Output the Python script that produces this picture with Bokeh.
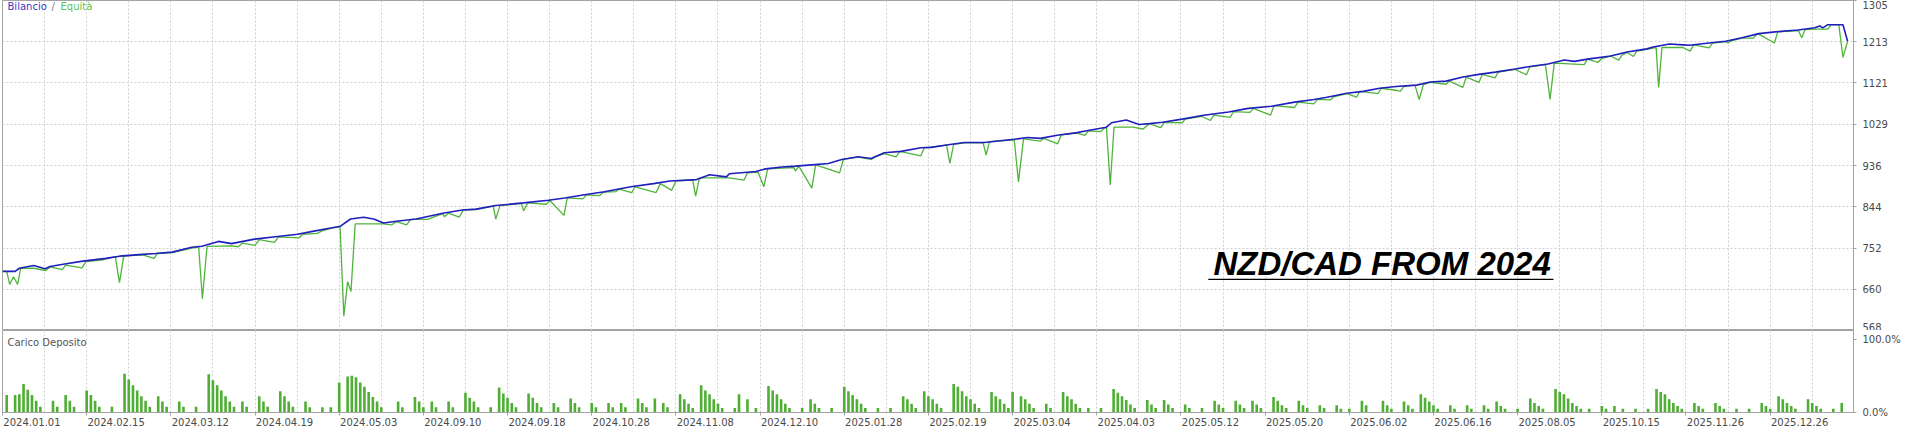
from bokeh.plotting import figure
from bokeh.layouts import column
from bokeh.models import Range1d, FixedTicker, Label, BoxAnnotation
from bokeh.embed import file_html
from bokeh.resources import INLINE

# ---------------- data ----------------
tick_labels = ["2024.01.01", "2024.02.15", "2024.03.12", "2024.04.19", "2024.05.03",
               "2024.09.10", "2024.09.18", "2024.10.28", "2024.11.08", "2024.12.10",
               "2025.01.28", "2025.02.19", "2025.03.04", "2025.04.03", "2025.05.12",
               "2025.05.20", "2025.06.02", "2025.06.16", "2025.08.05", "2025.10.15",
               "2025.11.26", "2025.12.26"]
deals_per_label = 20

y_ticks = [568, 660, 752, 844, 936, 1029, 1121, 1213, 1305]

bal_x = [0, 3, 4, 7.4, 10.1, 11.3, 14.4, 19.1, 24.6, 27.8, 33.3, 36.4, 40.3, 45, 47.4, 51.3, 54.4,
         59.9, 65.4, 70.1, 74, 78, 80.3, 82.7, 85.8, 88.2, 90.5, 93.6, 98.3, 104.6, 109.3, 112.5,
         117.2, 123.8, 129.7, 133.6, 138.3, 143, 149.3, 154.7, 158.6, 164.9, 168, 172, 172.7, 179,
         181.3, 185.2, 188.4, 192.3, 196.2, 199.4, 203.3, 206.4, 209.5, 213.5, 218.2, 220.7, 224.7,
         228.6, 233.3, 240.4, 243.5, 246.6, 250.6, 255.3, 257.6, 262.3, 263.5, 267, 270.1, 272.5,
         275.6, 280.3, 285, 291.3, 296, 301.5, 307, 311.6, 314.7, 319.4, 323.3, 327.2, 331.1, 336,
         339.2, 343, 347, 350.8, 354.7, 359.4, 362.5, 367.2, 371.1, 373.5, 376.6, 382.1, 386, 390.7,
         392.2, 396.1, 399.3, 400.8, 405.5, 409.4, 413.3, 417.3, 421.2, 426.7, 430.6, 431.8, 432.5,
         433.7, 437.3, 438.4]
bal_y = [700, 700, 707, 713, 706, 711, 716, 723, 729, 734, 738, 740, 743, 754, 756, 767, 762,
         772, 778, 783, 790, 797, 801, 817, 821, 817, 808, 812, 817, 830, 837, 839,
         847, 853, 859, 864, 871, 878, 889, 896, 902, 905, 916, 911, 918, 923,
         929, 933, 935, 938, 941, 950, 956, 952, 965, 968, 976, 977, 983,
         988, 988, 995, 999, 997, 1004, 1010, 1014, 1022, 1032, 1038, 1028, 1030,
         1033, 1040, 1048, 1056, 1064, 1069, 1078, 1084, 1089, 1098, 1102, 1109, 1113, 1116,
         1123, 1125, 1134, 1140, 1145, 1152, 1157, 1163, 1172, 1169, 1174, 1181, 1190, 1197,
         1201, 1208, 1206, 1205, 1210, 1214, 1222, 1231, 1235, 1239, 1244, 1248, 1244,
         1251, 1251, 1214]

eq_x = [0, 1, 1.7, 2.6, 3.6, 4.3, 7.4, 10.3, 11.3, 14.2, 15, 18.9, 19.8, 24, 24.6, 26.8, 27.8, 28.8,
        33.3, 36, 36.8, 40.3, 45, 46.6, 47.5, 48.6, 54.4, 56, 57, 60, 61, 64.6, 65.6, 70.5, 71.3,
        74.8, 75.8, 78, 80.2, 81.1, 82, 82.8, 83.8, 90.5, 92.5, 93.6, 96, 97, 101, 104.6, 105, 106,
        108.5, 109.5, 112.5, 116.6, 117.2, 118.2, 123.3, 123.8, 124.8, 129.3, 130, 133.4, 134.2,
        137.9, 138.8, 141.8, 142.8, 145.7, 146.5, 149.5, 150.3, 155.3, 156.3, 159, 160, 164, 164.7,
        165.5, 166, 172.7, 176.2, 177, 179.5, 180.9, 181.8, 188, 188.4, 189.2, 192.3, 193.2, 198.9,
        199.8, 203.3, 206.4, 207.2, 209.5, 212.3, 213.2, 218.2, 219, 224.3, 225.1, 226, 228.6, 233,
        233.7, 234.5, 240.4, 241.4, 242.6, 246.6, 247.4, 250.7, 251.6, 255.3, 257.2, 258, 260.9,
        261.8, 262.3, 263.2, 264.1, 268.6, 271, 272.5, 275.2, 276, 280.3, 281, 285, 287, 287.8,
        291.7, 292.5, 296.4, 297.2, 301.3, 302.1, 307, 307.8, 311.6, 312.4, 315.5, 316.3, 319.4,
        321.7, 322.5, 326.8, 327.6, 331.5, 332.1, 333, 335.6, 336.6, 337.6, 339.2, 343, 343.8, 347,
        347.8, 350.8, 351.6, 354.6, 355.4, 359.4, 362.1, 362.9, 366.6, 367.7, 368.7, 375.8, 376.6,
        379.1, 379.9, 382.1, 384, 384.8, 386, 387.5, 388.3, 392.9, 393.5, 394.3, 399.3, 401, 401.8,
        405.5, 406.3, 409.4, 410, 410.8, 413.3, 416, 416.8, 417.3, 421, 421.8, 426.7, 427.5, 428.3,
        430.6, 433.7, 434.5, 436.3, 437.3, 438.4]
eq_y = [700, 700, 671, 688, 671, 707, 707, 702, 710, 704, 714, 708, 722, 726, 728, 733, 675, 734,
        737, 729, 740, 742, 752, 755, 639, 756, 757, 755, 763, 758, 771, 765, 777, 775, 783,
        785, 790, 796, 800, 600, 677, 655, 806, 806, 804, 811, 804, 816, 816, 829, 822, 830,
        821, 837, 838, 846, 817, 847, 852, 835, 853, 850, 859, 825, 864,
        862, 871, 869, 877, 878, 884, 876, 889, 876, 896, 881, 902, 904, 868,
        905, 909, 909, 904, 920, 922, 889, 929, 932, 924, 935, 886, 938, 920,
        950, 955, 950, 955, 963, 956, 968, 958, 976, 982, 941, 984, 987, 987,
        960, 990, 994, 900, 996, 991, 997, 985, 1005, 1009, 1004, 1014, 1012,
        1020, 1022, 893, 1022, 1022, 1018, 1030, 1021, 1033, 1032, 1040, 1046, 1037, 1049,
        1044, 1057, 1055, 1064, 1049, 1070, 1066, 1078, 1074, 1084, 1083, 1090, 1097,
        1089, 1102, 1097, 1109, 1104, 1102, 1113, 1116, 1084, 1117, 1122, 1118, 1125, 1111,
        1134, 1122, 1140, 1132, 1145, 1151, 1139, 1157, 1162, 1084, 1165, 1162, 1174,
        1167, 1175, 1181, 1172, 1183, 1189, 1180, 1192, 1200, 1111, 1200, 1200, 1192, 1206,
        1199, 1210, 1213, 1210, 1215, 1221, 1221, 1229, 1230, 1210, 1235, 1238, 1222, 1240,
        1241, 1241, 1251, 1251, 1178, 1214]

load_idx = [1, 3, 4, 5, 6, 7, 8, 9, 12, 13, 15, 16, 17, 20, 21, 22, 23, 26, 29, 30, 31, 32, 33, 34, 35,
            37, 38, 39, 42, 43, 46, 49, 50, 51, 52, 53, 54, 55, 57, 58, 61, 62, 63, 66, 67, 68, 69,
            72, 73, 76, 78, 80, 82, 83, 84, 85, 86, 87, 88, 89, 90, 94, 95, 98, 99, 100, 102, 103,
            106, 107, 110, 111, 112, 113, 116, 118, 119, 120, 121, 122, 125, 126, 127, 128, 131, 132,
            135, 136, 137, 140, 141, 144, 145, 147, 148, 151, 152, 153, 155, 157, 158, 161, 162, 163,
            164, 166, 167, 168, 169, 170, 171, 174, 175, 177, 179, 182, 183, 184, 185, 186, 187, 190,
            192, 193, 194, 197, 200, 201, 202, 203, 204, 205, 208, 211, 214, 215, 216, 217, 219, 220,
            221, 222, 223, 226, 227, 228, 229, 230, 231, 232, 235, 236, 237, 238, 239, 240, 242, 243,
            244, 245, 248, 249, 252, 253, 254, 255, 256, 258, 261, 264, 265, 266, 267, 268, 269, 272,
            273, 274, 276, 277, 278, 281, 282, 285, 288, 289, 290, 293, 294, 295, 297, 298, 299, 302,
            303, 304, 305, 308, 309, 310, 313, 314, 317, 318, 320, 323, 324, 328, 329, 330, 333, 334,
            335, 337, 338, 339, 340, 341, 344, 345, 348, 349, 352, 353, 355, 356, 357, 360, 363, 364,
            365, 366, 369, 370, 371, 372, 373, 374, 375, 377, 380, 381, 383, 385, 388, 391, 393, 394,
            395, 396, 397, 398, 399, 402, 403, 404, 407, 408, 409, 412, 415, 418, 419, 420, 422, 423,
            424, 425, 426, 429, 430, 431, 432, 435, 437]
load_pct = [24, 24, 25, 39, 31, 24, 16, 8, 16, 8, 24, 16, 8, 30, 24, 16, 8, 8, 53, 45, 37, 30, 22, 16, 8,
            22, 15, 8, 15, 8, 8, 52, 44, 37, 30, 22, 15, 8, 15, 8, 22, 15, 8, 29, 22, 15, 8,
            15, 7, 7, 7, 41, 49, 50, 48, 41, 35, 28, 21, 15, 7, 15, 7, 21, 15, 7, 15, 7,
            15, 7, 27, 20, 15, 7, 7, 34, 26, 20, 13, 7, 26, 20, 13, 7, 13, 7,
            19, 13, 7, 13, 7, 13, 7, 13, 7, 19, 13, 7, 19, 13, 7, 25, 18, 12,
            6, 37, 30, 25, 18, 12, 6, 6, 25, 18, 6, 36, 30, 25, 18, 12, 6, 6,
            18, 12, 6, 6, 35, 29, 24, 18, 12, 6, 6, 6, 22, 18, 12, 6, 29, 22,
            18, 12, 6, 39, 35, 29, 22, 18, 12, 6, 28, 22, 18, 12, 6, 28, 22, 18,
            12, 6, 12, 6, 28, 22, 18, 12, 6, 6, 6, 32, 27, 22, 17, 11, 6, 17,
            11, 6, 17, 11, 6, 11, 6, 6, 16, 11, 6, 16, 11, 6, 16, 11, 6, 21,
            16, 10, 6, 16, 10, 6, 10, 6, 10, 5, 5, 16, 10, 16, 10, 5, 15, 10,
            5, 25, 20, 15, 10, 5, 10, 5, 10, 5, 10, 5, 15, 9, 5, 5, 19, 13,
            9, 5, 32, 28, 25, 19, 13, 9, 5, 5, 9, 5, 9, 5, 5, 5, 32, 28,
            25, 18, 13, 9, 5, 13, 9, 5, 13, 9, 5, 5, 5, 13, 9, 5, 22, 18,
            13, 9, 5, 18, 13, 9, 5, 5, 13]

# ---------------- styling ----------------
X_END = 439.8
FW = 1851
FONT = "DejaVu Sans"
AXIS_COL = "#a3a3a3"
TXT = "#4a4a4a"
GRID = "#d0d0d0"
BAL_COL = "#1f1fbd"
EQ_COL = "#4fb43a"
BAR_COL = "#4fae34"

grid_x = list(range(0, 440, 10))
tick_pos = [i * deals_per_label for i in range(len(tick_labels))]
LABEL_SHIFT = 7.0   # labels start at their tick, so centre them half a label to the right
label_pos = [p + LABEL_SHIFT for p in tick_pos]


def style_axis(ax):
    ax.axis_line_color = AXIS_COL
    ax.major_tick_line_color = AXIS_COL
    ax.major_tick_out = 3
    ax.major_tick_in = 0
    ax.minor_tick_line_color = None
    ax.major_label_text_font = FONT
    ax.major_label_text_font_size = "10px"
    ax.major_label_text_color = TXT


# ---------------- top panel: balance / equity ----------------
top = figure(frame_width=FW, frame_height=330, x_range=Range1d(0, X_END),
             y_range=Range1d(568, 1305), y_axis_location="right",
             output_backend="svg", toolbar_location=None,
             min_border_left=2, min_border_right=51, min_border_top=0, min_border_bottom=0)
top.xaxis.visible = False
top.outline_line_color = AXIS_COL
top.background_fill_color = "white"
top.border_fill_color = "white"

style_axis(top.yaxis[0])
top.yaxis.ticker = FixedTicker(ticks=y_ticks)
top.yaxis.major_label_overrides = {v: str(v) for v in y_ticks}
top.yaxis.major_label_standoff = 6

top.xgrid.ticker = FixedTicker(ticks=grid_x)
top.xgrid.grid_line_color = GRID
top.xgrid.grid_line_dash = "2 2"
top.ygrid.grid_line_color = GRID
top.ygrid.grid_line_dash = "2 2"

top.line(eq_x, eq_y, line_color=EQ_COL, line_width=1.3)
top.line(bal_x, bal_y, line_color=BAL_COL, line_width=1.6)

for txt, off, col in [("Bilancio", 5, "#3a3ac4"), ("/", 49, "#808080"), ("Equità", 58, "#5cbf4c")]:
    top.add_layout(Label(x=0, y=1292, x_offset=off, text=txt, text_font=FONT,
                         text_font_size="10px", text_color=col, text_baseline="middle"))

top.add_layout(Label(x=327.8, y=717, text="NZD/CAD FROM 2024", text_font="Liberation Sans",
                     text_font_style="bold italic", text_font_size="33px", text_color="black",
                     text_align="center", text_baseline="middle"))
top.add_layout(BoxAnnotation(left=286.5, right=368.5, bottom=680.6, top=683.4,
                             fill_color="black", fill_alpha=1.0, line_color=None))

# ---------------- bottom panel: deposit load ----------------
bot = figure(frame_width=FW, frame_height=82, x_range=top.x_range, y_range=Range1d(0, 111.8),
             y_axis_location="right", output_backend="svg", toolbar_location=None,
             min_border_left=2, min_border_right=51, min_border_top=0, min_border_bottom=0)
bot.outline_line_color = AXIS_COL
bot.background_fill_color = "white"
bot.border_fill_color = "white"

style_axis(bot.yaxis[0])
bot.yaxis.ticker = FixedTicker(ticks=[0, 100])
bot.yaxis.major_label_overrides = {0: "0.0%", 100: "100.0%"}
bot.yaxis.major_label_standoff = 6

style_axis(bot.xaxis[0])
bot.xaxis.ticker = FixedTicker(ticks=label_pos, minor_ticks=tick_pos)
bot.xaxis.major_label_overrides = {p: l for p, l in zip(label_pos, tick_labels)}
bot.xaxis.major_tick_line_color = None
bot.xaxis.minor_tick_line_color = AXIS_COL
bot.xaxis.minor_tick_out = 3
bot.xaxis.minor_tick_in = 0
bot.xaxis.major_label_standoff = 2

bot.xgrid.ticker = FixedTicker(ticks=grid_x)
bot.xgrid.grid_line_color = GRID
bot.xgrid.grid_line_dash = "2 2"
bot.ygrid.visible = False

bot.vbar(x=load_idx, top=load_pct, width=0.62, fill_color=BAR_COL, line_color=None)

bot.add_layout(Label(x=0, y=95, x_offset=5, text="Carico Deposito", text_font=FONT,
                     text_font_size="10px", text_color="#555555", text_baseline="middle"))

layout = column(top, bot, spacing=0)
open("out.html", "w").write(file_html(layout, INLINE))
